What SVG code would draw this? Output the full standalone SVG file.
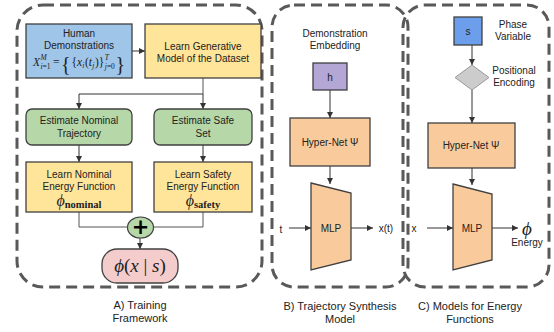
<svg xmlns="http://www.w3.org/2000/svg" width="554" height="332" viewBox="0 0 554 332">
<defs>
<marker id="ah" viewBox="0 0 6 6" refX="6" refY="3" markerWidth="6" markerHeight="6" orient="auto" markerUnits="userSpaceOnUse">
<path d="M0,0 L6,3 L0,6 z" fill="#333"/>
</marker>
<style>
.panel{fill:none;stroke:#595959;stroke-width:3;stroke-dasharray:11,6}
.t{font-family:"Liberation Sans",Arial,sans-serif;font-size:10px;fill:#222;text-anchor:middle}
.lbl{font-family:"Liberation Sans",Arial,sans-serif;font-size:11px;fill:#222;text-anchor:middle}
.m{font-family:"Liberation Serif","DejaVu Serif",serif;fill:#222}
.f{font-family:"Liberation Serif","DejaVu Serif",serif;fill:#222;font-size:11.5px}
.fi{font-style:italic}
.fs{font-size:7.5px}
.fb{font-size:20px}
.box{stroke:#404040;stroke-width:1.3}
.con{fill:none;stroke:#555;stroke-width:1}
.arr{fill:none;stroke:#333;stroke-width:1;marker-end:url(#ah)}
</style>
</defs>

<g id="panels">
<rect class="panel" x="17" y="5" width="245" height="282" rx="26"/>
<rect class="panel" x="272" y="5" width="136" height="282" rx="22"/>
<rect class="panel" x="403" y="5" width="146" height="282" rx="22"/>
</g>

<g id="connectors">
<path class="arr" d="M132,51 H145"/>
<path class="con" d="M203,78 V94"/>
<path class="arr" d="M203,94 V109"/>
<path class="arr" d="M203,94 H79 V109"/>
<path class="arr" d="M79,145 V162"/>
<path class="arr" d="M203,145 V162"/>
<path class="con" d="M79,212 V227 H127"/>
<path class="con" d="M203,212 V227 H154"/>
<path class="arr" d="M140,238 V249"/>
<path class="arr" d="M330,90 V118"/>
<path class="arr" d="M330,166 V184"/>
<path class="arr" d="M289,228 H311"/>
<path class="arr" d="M351,228 H373"/>
<path class="arr" d="M472,45 V65"/>
<path class="arr" d="M472,90 V123"/>
<path class="arr" d="M472,168 V185"/>
<path class="arr" d="M427,228 H453"/>
<path class="arr" d="M492,228 H518"/>
</g>

<g id="human-demonstrations">
<rect class="box" x="26" y="24" width="106" height="54" fill="#9fc5e8"/>
<text class="t" x="79" y="37">Human</text>
<text class="t" x="79" y="49">Demonstrations</text>
<text class="f fi" x="33" y="66">X</text>
<text class="f fi fs" x="40.5" y="60">M</text>
<text class="f fs" x="40.5" y="69"><tspan class="fi">i</tspan>=1</text>
<text class="f" x="53" y="66">=</text>
<text class="f fb" x="61" y="71">{</text>
<text class="f" x="71.5" y="66">{</text>
<text class="f fi" x="77" y="66">x</text>
<text class="f fi fs" x="82.3" y="68">i</text>
<text class="f" x="85" y="66">(</text>
<text class="f fi" x="88.8" y="66">t</text>
<text class="f fi fs" x="92.3" y="68">j</text>
<text class="f" x="95" y="66">)</text>
<text class="f" x="98.8" y="66">}</text>
<text class="f fi fs" x="104.8" y="60">T</text>
<text class="f fs" x="104.8" y="69"><tspan class="fi">j</tspan>=0</text>
<text class="f fb" x="115.5" y="71">}</text>
</g>

<g id="learn-generative">
<rect class="box" x="145" y="24" width="116" height="54" fill="#ffe599"/>
<text class="t" x="203" y="50">Learn Generative</text>
<text class="t" x="203" y="62">Model of the Dataset</text>
</g>

<g id="estimate-nominal">
<rect class="box" x="26" y="109" width="106" height="36" rx="6" fill="#b6d7a8"/>
<text class="t" x="79" y="124">Estimate Nominal</text>
<text class="t" x="79" y="137">Trajectory</text>
</g>

<g id="estimate-safe">
<rect class="box" x="154" y="109" width="98" height="36" rx="6" fill="#b6d7a8"/>
<text class="t" x="203" y="124">Estimate Safe</text>
<text class="t" x="203" y="137">Set</text>
</g>

<g id="learn-nominal">
<rect class="box" x="26" y="162" width="106" height="50" fill="#ffe599"/>
<text class="t" x="79" y="178">Learn Nominal</text>
<text class="t" x="79" y="190">Energy Function</text>
<text class="m" x="79" y="206" text-anchor="middle"><tspan font-size="16" font-style="italic">ϕ</tspan><tspan font-size="10.5" font-weight="bold" dy="2">nominal</tspan></text>
</g>

<g id="learn-safety">
<rect class="box" x="154" y="162" width="98" height="50" fill="#ffe599"/>
<text class="t" x="203" y="178">Learn Safety</text>
<text class="t" x="203" y="190">Energy Function</text>
<text class="m" x="203" y="206" text-anchor="middle"><tspan font-size="16" font-style="italic">ϕ</tspan><tspan font-size="10.5" font-weight="bold" dy="2">safety</tspan></text>
</g>

<g id="plus">
<ellipse cx="140.5" cy="227.5" rx="13" ry="10.5" fill="#b6d7a8" stroke="#404040" stroke-width="1.2"/>
<text x="140.5" y="234" font-family="'DejaVu Sans',sans-serif" font-size="21" font-weight="bold" text-anchor="middle" fill="#000">+</text>
</g>

<g id="phi-output">
<rect class="box" x="102" y="249" width="76" height="34" rx="15" fill="#f4cccc"/>
<text class="m" x="140" y="272" font-size="19" text-anchor="middle"><tspan font-style="italic">ϕ</tspan>(<tspan font-style="italic">x</tspan> | <tspan font-style="italic">s</tspan>)</text>
</g>

<g id="label-a">
<text class="lbl" x="140" y="309">A) Training</text>
<text class="lbl" x="140" y="322">Framework</text>
</g>

<g id="demo-embedding-label">
<text class="t" x="335" y="37">Demonstration</text>
<text class="t" x="335" y="49">Embedding</text>
</g>

<g id="h">
<rect class="box" x="313" y="63" width="34" height="27" fill="#b4a7d6"/>
<text class="t" x="330" y="81" font-size="12">h</text>
</g>

<g id="hypernet-b">
<rect class="box" x="290" y="118" width="80" height="48" fill="#f9cb9c"/>
<text class="t" x="330" y="146">Hyper-Net Ψ</text>
</g>

<g id="mlp-b">
<path class="box" d="M311,183 L351,193 L351,260 L311,270 Z" fill="#f9cb9c"/>
<text class="t" x="331" y="232">MLP</text>
</g>

<g id="b-io">
<text class="t" x="281" y="233" font-size="12">t</text>
<text class="t" x="386" y="232" font-size="11">x(t)</text>
</g>

<g id="label-b">
<text class="lbl" x="340" y="310">B) Trajectory Synthesis</text>
<text class="lbl" x="340" y="323">Model</text>
</g>

<g id="s">
<rect class="box" x="454" y="17" width="28" height="28" fill="#6d9eeb"/>
<text class="t" x="468" y="35">s</text>
<text class="t" x="513" y="28">Phase</text>
<text class="t" x="513" y="40">Variable</text>
</g>

<g id="positional-encoding">
<path d="M472,65 L489,77.5 L472,90 L455,77.5 Z" fill="#cccccc" stroke="#999" stroke-width="1"/>
<text class="t" x="514" y="74">Positional</text>
<text class="t" x="514" y="86">Encoding</text>
</g>

<g id="hypernet-c">
<rect class="box" x="428" y="123" width="87" height="45" fill="#f9cb9c"/>
<text class="t" x="471" y="149">Hyper-Net Ψ</text>
</g>

<g id="mlp-c">
<path class="box" d="M453,184 L492,194 L492,260 L453,270 Z" fill="#f9cb9c"/>
<text class="t" x="472" y="232">MLP</text>
</g>

<g id="c-io">
<text class="t" x="414" y="232" font-size="11">x</text>
<text class="m" x="527" y="235" font-size="19" font-style="italic" text-anchor="middle">ϕ</text>
<text class="t" x="527" y="246">Energy</text>
</g>

<g id="label-c">
<text class="lbl" x="470" y="310">C) Models for Energy</text>
<text class="lbl" x="470" y="323">Functions</text>
</g>
</svg>
